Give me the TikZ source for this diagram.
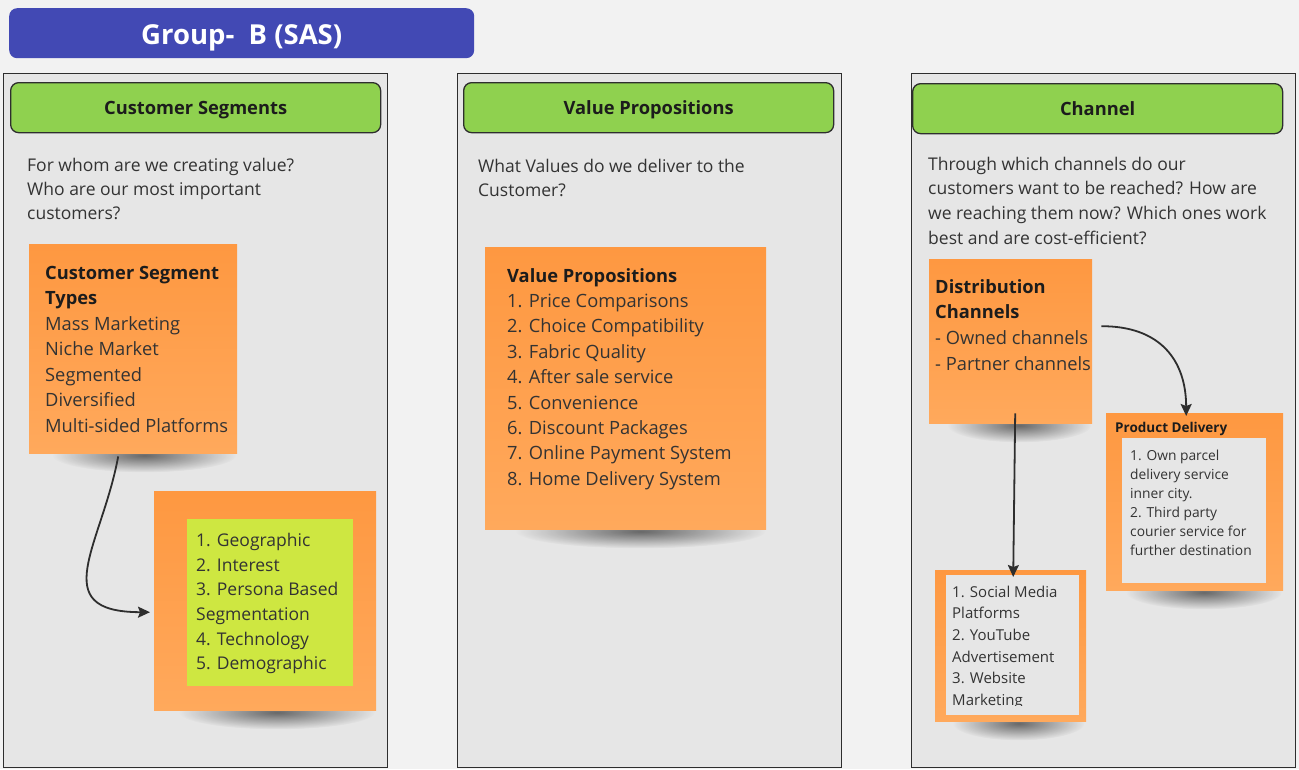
\documentclass[tikz,border=0pt]{standalone}
\usepackage{fontspec}
\setmainfont{Open Sans}
\usetikzlibrary{arrows.meta,fadings}

\definecolor{canvasbg}{HTML}{F2F2F2}
\definecolor{panelbg}{HTML}{E6E6E6}
\definecolor{frame}{HTML}{2E2E2E}
\definecolor{titleblue}{HTML}{4249B4}
\definecolor{headgreen}{HTML}{8FD14F}
\definecolor{limegreen}{HTML}{CEE741}
\definecolor{stickyA}{HTML}{FE9841}
\definecolor{stickyB}{HTML}{FFA95C}
\definecolor{inktext}{HTML}{333333}
\definecolor{inkbold}{HTML}{1C1C1C}

\newcommand\fsz[2]{\fontsize{#1}{#2}\selectfont}

% soft spot used for the shadow under each sticky note
\tikzfading[name=softspot, inner color=transparent!0, outer color=transparent!100]

\pgfdeclarelayer{back}
\pgfdeclarelayer{shade}
\pgfsetlayers{back,shade,main}

% shadow under a note: #1 = node name, #2 = half width of the shadow
\newcommand\noteshadow[2]{%
  \begin{pgfonlayer}{shade}
    \fill[black, opacity=0.55, path fading=softspot]
      ([xshift=0.12*#2 pt, yshift=-2pt]#1.south) ellipse [x radius=#2 pt, y radius=17pt];
  \end{pgfonlayer}}

\tikzset{
  panel/.style={draw=frame, line width=1.3pt, fill=panelbg, anchor=north west, inner sep=0},
  header/.style={draw=frame, line width=1.3pt, fill=headgreen, rounded corners=8pt,
    minimum width=370pt, minimum height=50pt, anchor=north west,
    text height=16pt, text depth=3pt,
    font=\fsz{18.3}{22}\bfseries, text=inkbold},
  question/.style={anchor=north west, inner sep=0, align=left, text=inktext},
  sticky/.style={anchor=north west, inner sep=0, top color=stickyA, bottom color=stickyB},
  innerbox/.style={anchor=north west, inner sep=0},
  notetext/.style={anchor=north west, inner sep=0, align=left, text=inktext},
  link/.style={draw=frame, line width=1.8pt,
    -{Stealth[length=12pt, width=11pt, inset=2pt]}},
}

\begin{document}
\begin{tikzpicture}[x=1pt, y=-1pt]
\begin{pgfonlayer}{back}
\fill[canvasbg] (0,0) rectangle (1299,769);

% title banner
\node[fill=titleblue, rounded corners=8pt, minimum width=465pt, minimum height=50pt,
  anchor=north west, text height=24pt, text depth=2.4pt, text=white,
  font=\fsz{27.5}{32}\bfseries] (title) at (9,8) {Group-\ \ B (SAS)};

% three canvas columns
\node[panel, minimum width=384pt, minimum height=694pt] (p1) at (3,73) {};
\node[panel, minimum width=384pt, minimum height=694pt] (p2) at (457,73) {};
\node[panel, minimum width=384pt, minimum height=694pt] (p3) at (911,73) {};

\node[header] (h1) at (10,82) {Customer Segments};
\node[header] (h2) at (463,82) {Value Propositions};
\node[header] (h3) at (912,83) {Channel};

% guiding questions
\node[question, font=\fsz{17.5}{24}] (q1) at (27,154.2)
  {\strut For whom are we creating value?\\Who are our most important\\customers?};
\node[question, font=\fsz{17.5}{24}] (q2) at (478,155.2)
  {\strut What Values do we deliver to the\\Customer?};
\node[question, font=\fsz{17.5}{24.7}] (q3) at (928,152.7)
  {\strut Through which channels do our\\customers want to be reached? How are\\we reaching them now? Which ones work\\best and are cost-efficient?};
\end{pgfonlayer}
\useasboundingbox (0,0) rectangle (1299,769);

% customer segments
\node[sticky, minimum width=208pt, minimum height=209pt] (s1) at (29,244) {};
\noteshadow{s1}{92}
\node[notetext, font=\fsz{18.3}{25.5}] (s1t) at (45,261.2)
  {\strut\textbf{\color{inkbold}Customer Segment}\\\textbf{\color{inkbold}Types}\\Mass Marketing\\Niche Market\\Segmented\\Diversified\\Multi-sided Platforms};

\node[sticky, minimum width=222pt, minimum height=219pt] (s2) at (154,491) {};
\noteshadow{s2}{98}
\node[innerbox, fill=limegreen, minimum width=166pt, minimum height=167pt] (s2in) at (187,519) {};
\node[notetext, font=\fsz{17.5}{24.6}] (s2t) at (196,529.2)
  {\strut 1. Geographic\\2. Interest\\3. Persona Based\\Segmentation\\4. Technology\\5. Demographic};

% value propositions
\node[sticky, minimum width=281pt, minimum height=282pt] (vp) at (485,247) {};
\noteshadow{vp}{125}
\node[notetext, font=\fsz{18.3}{25.4}] (vpt) at (507,264.2)
  {\strut\textbf{\color{inkbold}Value Propositions}\\1. Price Comparisons\\2. Choice Compatibility\\3. Fabric Quality\\4. After sale service\\5. Convenience\\6. Discount Packages\\7. Online Payment System\\8. Home Delivery System};

% channels
\node[sticky, minimum width=163pt, minimum height=164pt] (dist) at (929,259) {};
\noteshadow{dist}{72}
\node[notetext, font=\fsz{18.3}{25.7}] (distt) at (935,275)
  {\strut\textbf{\color{inkbold}Distribution}\\\textbf{\color{inkbold}Channels}\\- Owned channels\\- Partner channels};

\node[sticky, minimum width=177pt, minimum height=177pt] (pd) at (1106,413) {};
\noteshadow{pd}{78}
\node[anchor=base west, inner sep=0, font=\fsz{13.5}{16}\bfseries, text=inkbold] (pdt) at (1115,432) {Product Delivery};
\node[innerbox, fill=panelbg, minimum width=144pt, minimum height=145pt] (pdin) at (1122,438) {};
\node[notetext, font=\fsz{13.8}{19}] (pdtx) at (1130,446.7)
  {\strut 1. Own parcel\\delivery service\\inner city.\\2. Third party\\courier service for\\further destination};

\node[sticky, minimum width=151pt, minimum height=151pt] (soc) at (935,570) {};
\noteshadow{soc}{66}
\node[innerbox, fill=panelbg, minimum width=133pt, minimum height=140pt] (socin) at (946,575) {};
\begin{scope}
  \clip (socin.north west) rectangle ([yshift=10pt]socin.south east);
  \node[notetext, font=\fsz{15}{21.6}] (soct) at (952,581.9)
    {\strut 1. Social Media\\Platforms\\2. YouTube\\Advertisement\\3. Website\\Marketing};
\end{scope}

% connectors
\draw[link] ([xshift=-15pt, yshift=-3pt]s1.south)
  .. controls (102,545) and (45,612) .. ([xshift=-4pt, yshift=-11.5pt]s2.west);
\draw[link] ([xshift=9pt, yshift=15pt]dist.east)
  .. controls (1160,326) and (1186,360) .. ([xshift=-8.5pt, yshift=-3pt]pd.north);
\draw[link] ([xshift=4.5pt, yshift=10pt]dist.south) -- ([xshift=2.5pt, yshift=-7pt]soc.north);

\end{tikzpicture}
\end{document}
